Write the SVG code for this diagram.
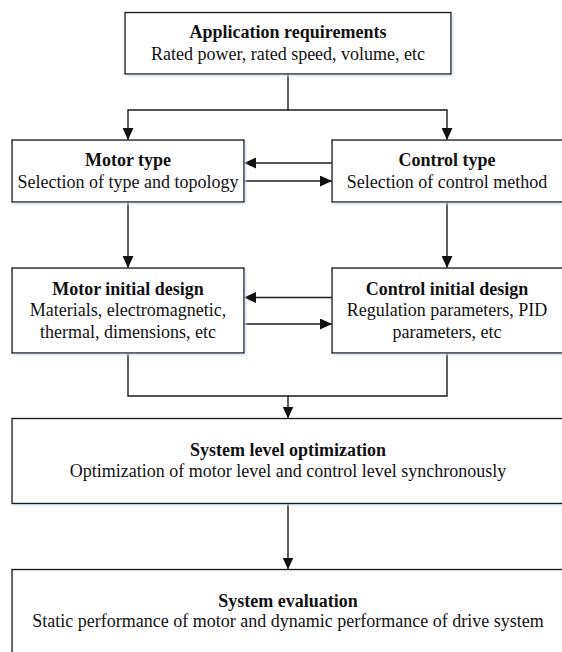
<svg xmlns="http://www.w3.org/2000/svg" width="562" height="652" viewBox="0 0 562 652">
  <style>
    .box { fill: #ffffff; stroke: #1a1a1a; stroke-width: 1.4; filter: url(#shadow); }
    .conn { fill: none; stroke: #1a1a1a; stroke-width: 1.4; }
    text { font-family: "Liberation Serif", "Times New Roman", serif; font-size: 18px; fill: #111111; text-anchor: middle; }
    .title { font-weight: bold; }
  </style>
  <defs>
    <marker id="arrow" viewBox="0 0 12 11" refX="12" refY="5.5" markerWidth="12" markerHeight="11" markerUnits="userSpaceOnUse" orient="auto">
      <path d="M0,0 L12,5.5 L0,11 z" fill="#111111"/>
    </marker>
    <filter id="shadow" x="-5%" y="-10%" width="110%" height="125%">
      <feDropShadow dx="1.5" dy="1.5" stdDeviation="1.2" flood-color="#c9d9ee" flood-opacity="0.8"/>
    </filter>
  </defs>
  <rect width="562" height="652" fill="#ffffff"/>

  <g id="connectors">
    <path class="conn" d="M288,74 V110 H128 V140" marker-end="url(#arrow)"/>
    <path class="conn" d="M288,110 H447 V140" marker-end="url(#arrow)"/>
    <path class="conn" d="M332,163 H244" marker-end="url(#arrow)"/>
    <path class="conn" d="M244,181 H332" marker-end="url(#arrow)"/>
    <path class="conn" d="M128,202 V268" marker-end="url(#arrow)"/>
    <path class="conn" d="M447,202 V268" marker-end="url(#arrow)"/>
    <path class="conn" d="M332,297.5 H244" marker-end="url(#arrow)"/>
    <path class="conn" d="M244,324 H332" marker-end="url(#arrow)"/>
    <path class="conn" d="M128,353 V396 H288 V418.5" marker-end="url(#arrow)"/>
    <path class="conn" d="M447,353 V396 H288"/>
    <path class="conn" d="M288,503 V569.5" marker-end="url(#arrow)"/>
  </g>

  <g id="application-requirements">
    <rect class="box" x="125" y="12.5" width="326" height="61.5"/>
    <text class="title" x="288" y="37.5">Application requirements</text>
    <text x="288" y="59.5">Rated power, rated speed, volume, etc</text>
  </g>

  <g id="motor-type">
    <rect class="box" x="12" y="140" width="232" height="62"/>
    <text class="title" x="128" y="166">Motor type</text>
    <text x="128" y="187.5">Selection of type and topology</text>
  </g>

  <g id="control-type">
    <rect class="box" x="332" y="140" width="232" height="62"/>
    <text class="title" x="447" y="166">Control type</text>
    <text x="447" y="187.5">Selection of control method</text>
  </g>

  <g id="motor-initial-design">
    <rect class="box" x="12" y="268" width="232" height="85"/>
    <text class="title" x="128" y="294.5">Motor initial design</text>
    <text x="128" y="316">Materials, electromagnetic,</text>
    <text x="128" y="338">thermal, dimensions, etc</text>
  </g>

  <g id="control-initial-design">
    <rect class="box" x="332" y="268" width="232" height="85"/>
    <text class="title" x="447" y="294.5">Control initial design</text>
    <text x="447" y="316">Regulation parameters, PID</text>
    <text x="447" y="338">parameters, etc</text>
  </g>

  <g id="system-level-optimization">
    <rect class="box" x="12" y="418.5" width="552" height="85"/>
    <text class="title" x="288" y="456">System level optimization</text>
    <text x="288" y="477">Optimization of motor level and control level synchronously</text>
  </g>

  <g id="system-evaluation">
    <rect class="box" x="12" y="569.5" width="552" height="100"/>
    <text class="title" x="288" y="606.5">System evaluation</text>
    <text x="288" y="627">Static performance of motor and dynamic performance of drive system</text>
  </g>
</svg>
